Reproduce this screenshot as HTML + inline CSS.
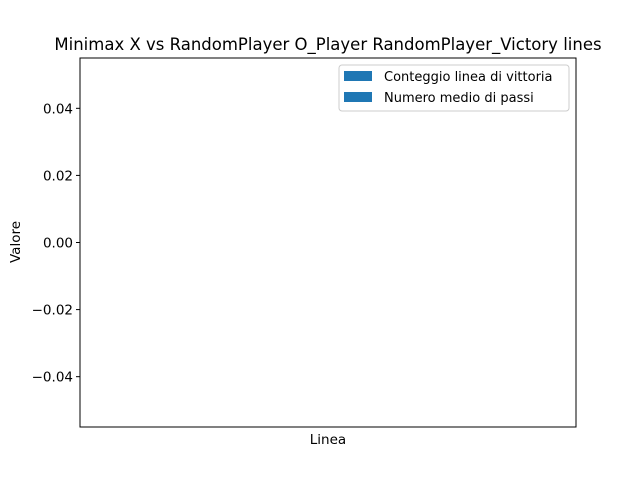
<!DOCTYPE html>
<html><head><meta charset="utf-8"><style>
body{margin:0;background:#fff;}
svg text{font-family:"DejaVu Sans","Liberation Sans",sans-serif;fill:#000;}
</style></head><body>
<svg width="640" height="480" xmlns="http://www.w3.org/2000/svg" id="chart">
<rect width="640" height="480" fill="#fff"/>
<text x="328" y="50" font-size="16.5" text-anchor="middle">Minimax X vs RandomPlayer O_Player RandomPlayer_Victory lines</text>
<g id="yaxis"></g>
<g id="bars"></g>
<rect x="80" y="58" width="496" height="369" fill="none" stroke="#000" stroke-width="1"/>
<text x="328" y="444" font-size="13.5" text-anchor="middle">Linea</text>
<text transform="translate(20,242) rotate(-90)" font-size="13.5" text-anchor="middle">Valore</text>
<g>
<rect x="339" y="65" width="230" height="46" rx="3" fill="#fff" stroke="#ccc"/>
<rect x="344" y="71" width="28" height="10" fill="#1f77b4"/>
<text x="384" y="81" font-size="13">Conteggio linea di vittoria</text>
<rect x="344" y="92" width="28" height="10" fill="#1f77b4"/>
<text x="384" y="102" font-size="13">Numero medio di passi</text>
</g>
</svg>
<script>
const categories = [];
const countValues = [];
const stepValues = [];
const yTicks = [0.04, 0.02, 0.0, -0.02, -0.04];
const yMin = -0.055, yMax = 0.055;
const plotTop = 58, plotBottom = 427, plotLeft = 80, plotRight = 576;
const NS = "http://www.w3.org/2000/svg";
function yScale(v){ return plotBottom - (v - yMin) / (yMax - yMin) * (plotBottom - plotTop); }
const yg = document.getElementById('yaxis');
yTicks.forEach(t => {
  const y = yScale(t);
  const ln = document.createElementNS(NS, 'line');
  ln.setAttribute('x1', plotLeft - 4); ln.setAttribute('x2', plotLeft);
  ln.setAttribute('y1', y); ln.setAttribute('y2', y);
  ln.setAttribute('stroke', '#000');
  
  
  yg.appendChild(ln);
  const tx = document.createElementNS(NS, 'text');
  tx.setAttribute('x', plotLeft - 7); tx.setAttribute('y', y + 5);
  tx.setAttribute('font-size', '13.5'); tx.setAttribute('text-anchor', 'end');
  tx.textContent = (t < 0 ? '\u2212' : '') + Math.abs(t).toFixed(2);
  
  
  yg.appendChild(tx);
});
const bg = document.getElementById('bars');
const n = categories.length;
categories.forEach((c, i) => {
  const slot = (plotRight - plotLeft) / n;
  [countValues[i], stepValues[i]].forEach((v, j) => {
    const r = document.createElementNS(NS, 'rect');
    const y0 = yScale(0), y1 = yScale(v);
    r.setAttribute('x', plotLeft + slot * i + slot * 0.1 + j * slot * 0.4);
    r.setAttribute('width', slot * 0.4);
    r.setAttribute('y', Math.min(y0, y1));
    r.setAttribute('height', Math.abs(y1 - y0));
    r.setAttribute('fill', '#1f77b4');
    
    
    bg.appendChild(r);
  });
});
</script>
</body></html>
